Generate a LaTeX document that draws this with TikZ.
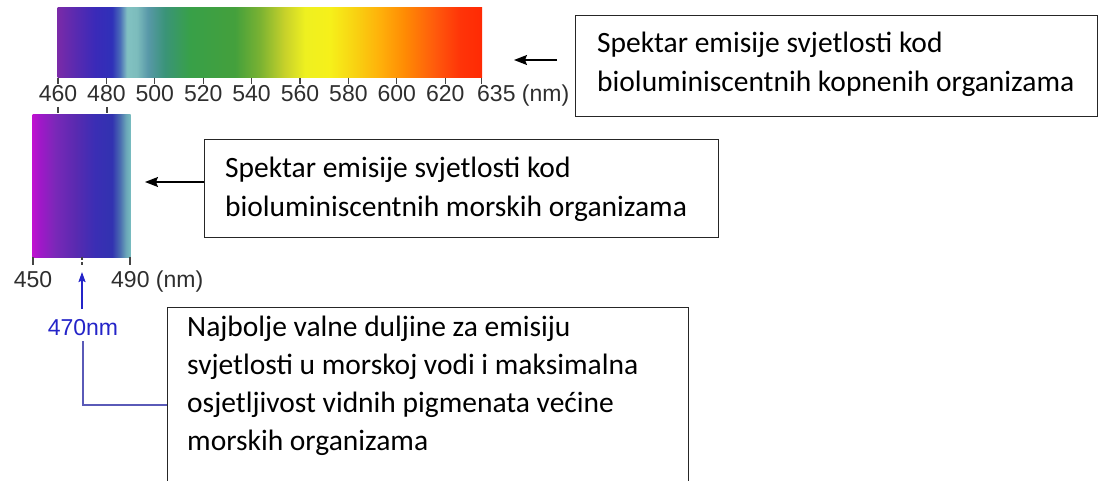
\documentclass[tikz,border=0pt]{standalone}
\usepackage{fontspec}
\setmainfont{Carlito}
\newfontfamily\arialf{Liberation Sans}
\usetikzlibrary{arrows.meta}
% top spectrum colours
\definecolor{s01}{HTML}{7A2AA8}
\definecolor{s02}{HTML}{5A2AB0}
\definecolor{s03}{HTML}{3A2AB8}
\definecolor{s04}{HTML}{2F30B8}
\definecolor{s05}{HTML}{4A6CB8}
\definecolor{s06}{HTML}{82C2C2}
\definecolor{s07}{HTML}{7CBCBC}
\definecolor{s08}{HTML}{5898A8}
\definecolor{s09}{HTML}{3A9478}
\definecolor{s10}{HTML}{38A048}
\definecolor{s11}{HTML}{44A03C}
\definecolor{s12}{HTML}{7AB232}
\definecolor{s13}{HTML}{C8D22A}
\definecolor{s14}{HTML}{EEF020}
\definecolor{s15}{HTML}{F6F01A}
\definecolor{s16}{HTML}{F8D212}
\definecolor{s17}{HTML}{FFB00A}
\definecolor{s18}{HTML}{FF8A04}
\definecolor{s19}{HTML}{FF5A0C}
\definecolor{s20}{HTML}{FF3408}
\definecolor{s21}{HTML}{FF2A04}
% bottom spectrum colours
\definecolor{m01}{HTML}{C010D0}
\definecolor{m02}{HTML}{A018C8}
\definecolor{m03}{HTML}{7A28B8}
\definecolor{m04}{HTML}{5A2AB0}
\definecolor{m05}{HTML}{3A2EB4}
\definecolor{m06}{HTML}{3232B0}
\definecolor{m07}{HTML}{4A6CB0}
\definecolor{m08}{HTML}{6AA6B8}
\definecolor{m09}{HTML}{78BCC0}
\definecolor{lblgray}{HTML}{2E2E2E}
\definecolor{tickgray}{HTML}{444444}
\definecolor{arrowblue}{HTML}{2424C8}
\definecolor{lineblue}{HTML}{5A5AB8}
\pgfdeclarehorizontalshading{topspec}{100bp}{%
color(0bp)=(s01); color(25bp)=(s01); color(27.06bp)=(s02); color(29.42bp)=(s03);
color(31.42bp)=(s04); color(32.36bp)=(s05); color(33.19bp)=(s06); color(34.36bp)=(s07);
color(35.66bp)=(s08); color(37.66bp)=(s09); color(40.61bp)=(s10); color(45.91bp)=(s11);
color(48.85bp)=(s12); color(51.80bp)=(s13); color(54.15bp)=(s14); color(57.10bp)=(s15);
color(60.04bp)=(s16); color(62.99bp)=(s17); color(65.93bp)=(s18); color(69.46bp)=(s19);
color(72.41bp)=(s20); color(75bp)=(s21); color(100bp)=(s21)}
\pgfdeclarehorizontalshading{botspec}{100bp}{%
color(0bp)=(m01); color(25bp)=(m01); color(28.8bp)=(m02); color(36.5bp)=(m03);
color(46.7bp)=(m04); color(56.9bp)=(m05); color(65.6bp)=(m06); color(69.6bp)=(m07);
color(72.7bp)=(m08); color(75bp)=(m09); color(100bp)=(m09)}
\begin{document}
\begin{tikzpicture}[x=1pt,y=-1pt,
  frame/.style={draw=black!85, line width=1.3pt, inner sep=0pt, anchor=north west},
  boxtxt/.style={inner sep=0pt, anchor=base west, font=\fontsize{29.5}{38.2}\selectfont},
  numlbl/.style={inner sep=0pt, anchor=base, text=lblgray, font=\arialf\fontsize{23}{26}\selectfont},
  tickmark/.style={draw=tickgray, line width=1.2pt},
  blackarrow/.style={draw=black, line width=1.3pt, -{Stealth[length=13pt,width=10pt,inset=2pt]}},
  bluearrow/.style={draw=arrowblue, line width=1.6pt, -{Stealth[length=10pt,width=7pt,inset=1.5pt]}},
  blueline/.style={draw=lineblue, line width=1.6pt}
]
\useasboundingbox (0,0) rectangle (1100,481);
\clip (0,0) rectangle (1100,481);
% top spectrum
\shade[shading=topspec] (57.5,8) rectangle (482,78);
\foreach \l in {460,480,...,620,635} {
  \draw[tickmark] ({58+(\l-460)*2.42},78) -- ++(0,6);
}
\foreach \l in {460,480,...,620} {
  \node[numlbl] (lab\l) at ({58+(\l-460)*2.42},101.5) {\l};
}
\node[numlbl, anchor=base west] (lab635) at (477,101.5) {635 (nm)};
% small ticks under 460 / 480 labels
\draw[tickmark] (58,107) -- (58,113);
\draw[tickmark] (107,107) -- (107,113);
% bottom spectrum
\shade[shading=botspec] (32.5,115) rectangle (130.5,257);
\draw[tickmark] (33,257) -- (33,265);
\draw[tickmark, dash pattern=on 3pt off 2pt] (82,257) -- (82,266);
\draw[tickmark] (130,257) -- (130,265);
\node[numlbl] (lab450) at (33,287) {450};
\node[numlbl, anchor=base west] (lab490) at (111,287) {490 (nm)};
% box 1
\node[frame, minimum width=522pt, minimum height=101pt] (b1) at (575,15) {};
\node[boxtxt] (t1) at (597,53) {\vtop{\hbox{Spektar emisije svjetlosti kod}\hbox{bioluminiscentnih kopnenih organizama}}};
\coordinate (a1s) at (557,60);
\coordinate (a1e) at (514,60);
\draw[blackarrow] (a1s) -- (a1e);
% box 2
\node[frame, minimum width=514pt, minimum height=98pt] (b2) at (204,139) {};
\node[boxtxt] (t2) at (225,178) {\vtop{\hbox{Spektar emisije svjetlosti kod}\hbox{bioluminiscentnih morskih organizama}}};
\coordinate (a2e) at (145,182);
\draw[blackarrow] (b2.west |- a2e) -- (a2e);
% box 3
\node[frame, minimum width=521pt, minimum height=190pt] (b3) at (167,307) {};
\node[boxtxt] (t3) at (187,336) {\vtop{\hbox{Najbolje valne duljine za emisiju}\hbox{svjetlosti u morskoj vodi i maksimalna}\hbox{osjetljivost vidnih pigmenata većine}\hbox{morskih organizama}}};
% 470 nm marker
\node[inner sep=0pt, anchor=base, text=arrowblue, font=\arialf\fontsize{23}{26}\selectfont] (l470) at (83,335) {470nm};
\coordinate (a3s) at (82,309);
\coordinate (a3e) at (82,272);
\draw[bluearrow] (a3s) -- (a3e);
\coordinate (bend) at (83,405);
\draw[blueline] (83,341) -- (bend) -- (b3.west |- bend);
\end{tikzpicture}
\end{document}
